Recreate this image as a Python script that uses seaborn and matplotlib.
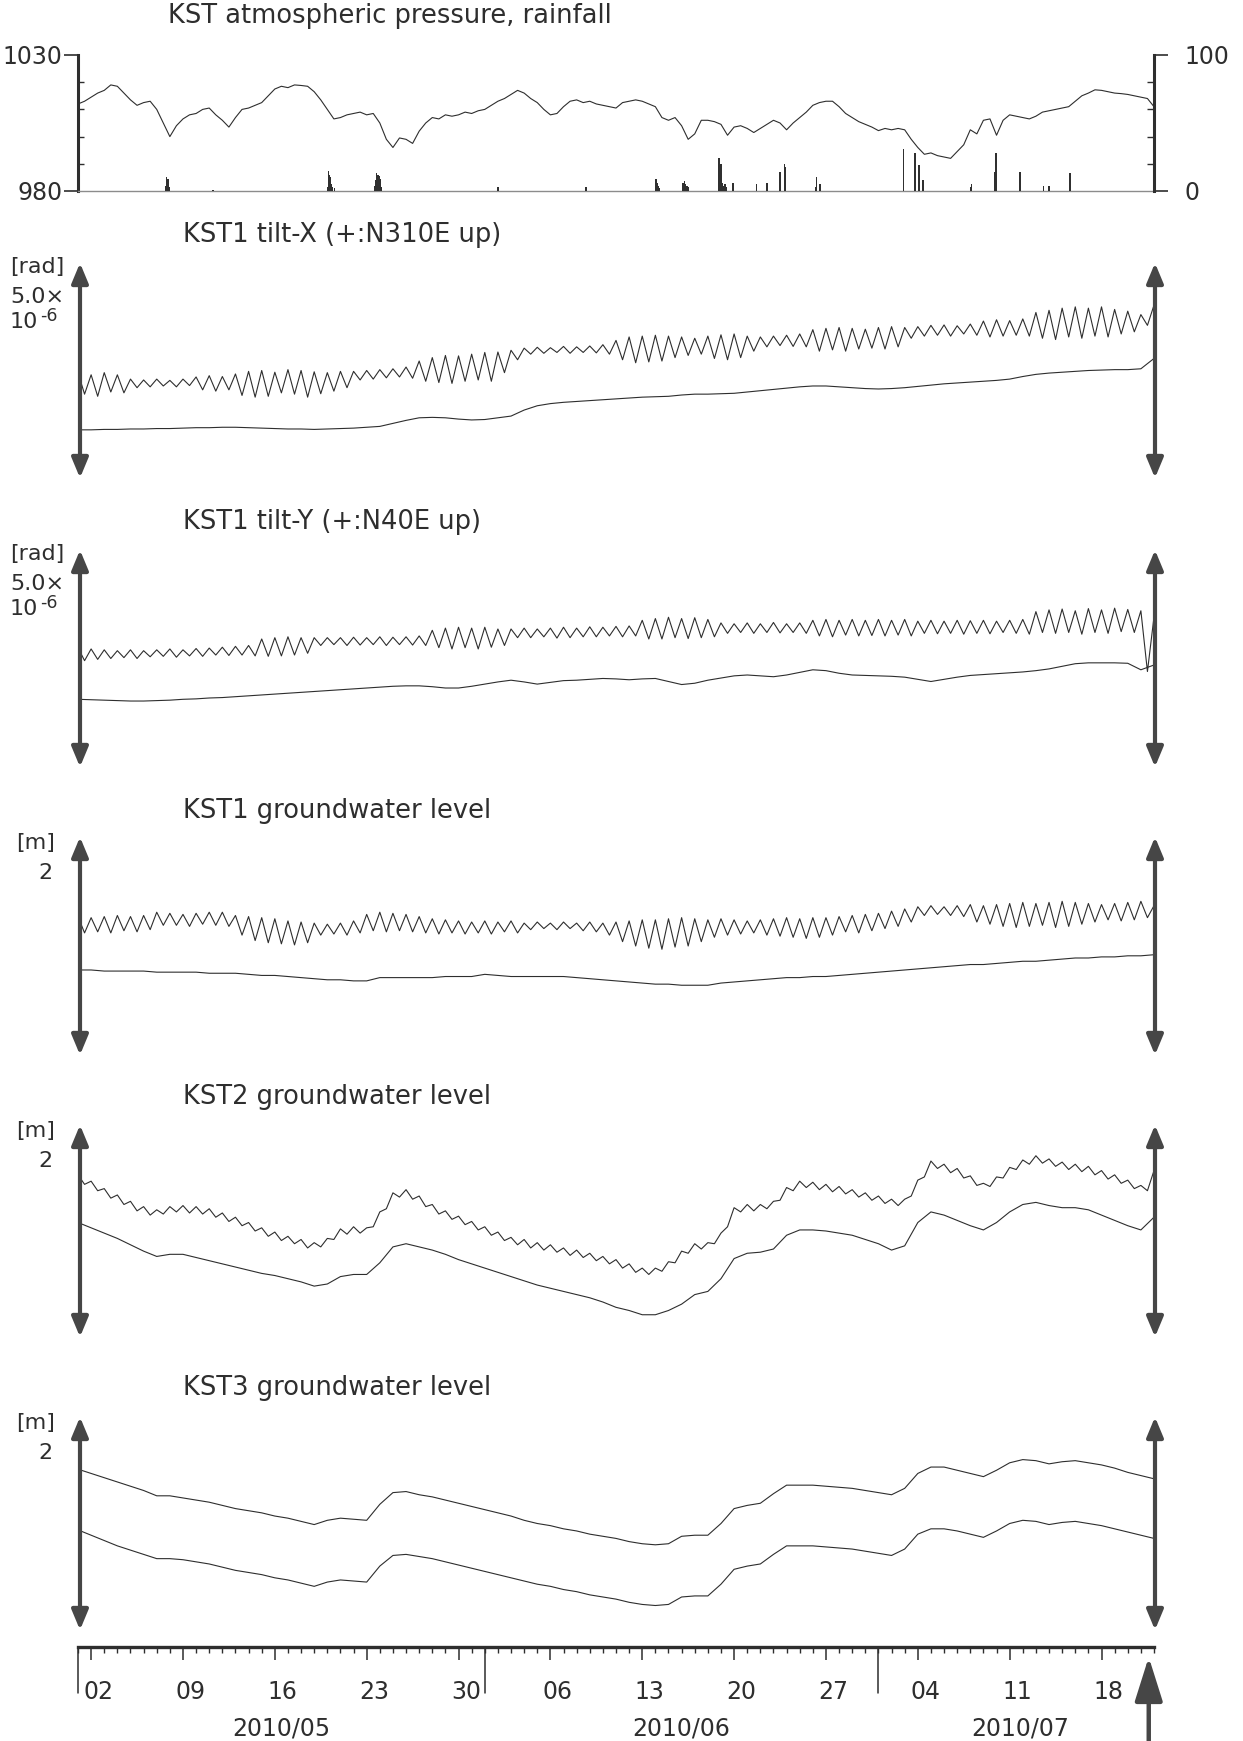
import numpy as np
import matplotlib
matplotlib.use("Agg")
import matplotlib.pyplot as plt
import seaborn as sns
from matplotlib.patches import FancyArrowPatch, ArrowStyle
from matplotlib.transforms import blended_transform_factory
from matplotlib.ticker import FixedLocator, NullFormatter

# ------------------------------------------------------------------
# Observation record, 2010-05-01 00:00 (day 0) to 2010-07-22 00:00 (day 82)
# ------------------------------------------------------------------

# Atmospheric pressure at KST [hPa], every 12 hours
pressure_hpa = [
    1012, 1013, 1014.5, 1016, 1017, 1019, 1018.5, 1016, 1013.5, 1011.5,
    1012.5, 1013, 1010, 1005, 1000, 1004, 1006.5, 1008, 1008.5, 1010,
    1010.5, 1008, 1006, 1003.5, 1007, 1010, 1010.5, 1011.5, 1012.5, 1015,
    1017.5, 1018.5, 1018, 1019, 1018.8, 1018.5, 1016.5, 1013.5, 1010, 1006.5,
    1007, 1008, 1008.5, 1009, 1008, 1008.5, 1005, 999, 996, 999.5,
    999, 997.5, 1002, 1005, 1007, 1006.5, 1008, 1007.5, 1008, 1009,
    1008.5, 1009.5, 1010, 1011.5, 1013, 1014, 1015.5, 1017, 1016, 1014,
    1012.5, 1010, 1008, 1008.5, 1011, 1013, 1013.5, 1012.5, 1013, 1012,
    1011.5, 1011, 1010.5, 1012.5, 1013, 1013.5, 1013, 1012, 1011, 1007,
    1006, 1007, 1004, 999, 1001, 1006, 1006, 1005.5, 1004.5, 1000.5,
    1003.5, 1004, 1003, 1001.5, 1003, 1004.5, 1006, 1005, 1002.5, 1005,
    1007, 1009, 1011.5, 1012.5, 1013, 1013, 1011, 1008.5, 1007, 1005.5,
    1004.5, 1003.5, 1002.2, 1003, 1002.5, 1003, 1002.5, 999, 996, 993.5,
    994, 993, 992.5, 992, 994.5, 997, 1002.5, 1001, 1006, 1006.5,
    1000.5, 1006, 1008, 1007.5, 1007, 1006.5, 1007.5, 1009, 1009.5, 1010,
    1010.5, 1011, 1013, 1015, 1016, 1017.2, 1017, 1016.5, 1016, 1015.8,
    1015.5, 1015, 1014.5, 1014, 1011,
]

# Hourly rainfall [mm]: time in days since 2010-05-01, amount
rain_day = [
    6.70, 6.75, 6.80, 6.85, 6.90, 6.95, 10.30,
    19.05, 19.10, 19.15, 19.20, 19.25, 19.30, 19.40, 19.55,
    22.65, 22.70, 22.75, 22.80, 22.85, 22.90, 22.95, 23.00, 23.05, 23.15,
    32.00, 38.70,
    44.05, 44.10, 44.15, 44.20, 44.30,
    46.05, 46.10, 46.20, 46.30, 46.40, 46.50,
    48.80, 48.85, 48.90, 48.95, 49.00, 49.05, 49.10, 49.20, 49.30, 49.40,
    49.90, 51.70, 52.50, 53.50, 53.55, 53.85, 53.90,
    56.20, 56.30, 56.55, 62.90, 63.75, 63.80, 64.10, 64.40,
    68.05, 68.10, 69.85, 69.90, 69.95, 70.00, 71.75, 71.80,
    73.60, 74.00, 75.55, 75.60,
]
rain_mm = [
    4, 10, 8, 9, 5, 3, 1,
    3, 15, 12, 8, 10, 5, 3, 2,
    4, 8, 13, 10, 12, 7, 11, 9, 5, 3,
    3, 3,
    9, 9, 6, 4, 2,
    5, 6, 7, 5, 4, 3,
    10, 24, 12, 16, 20, 9, 6, 4, 5, 3,
    6, 5, 6, 14, 6, 20, 18,
    3, 10, 5, 31, 10, 28, 19, 8,
    3, 5, 14, 15, 28, 6, 5, 14,
    4, 4, 10, 13,
]

# KST1 tilt-X [1e-6 rad]: raw record (daily high at 00h, low at 12h) and corrected
tiltx_raw_hi = [
    2.45, 2.40, 2.45, 2.40, 2.30, 2.28, 2.30, 2.27, 2.30, 2.35,
    2.38, 2.36, 2.42, 2.48, 2.50, 2.46, 2.52, 2.50, 2.47, 2.45,
    2.48, 2.48, 2.50, 2.52, 2.54, 2.58, 2.72, 2.80, 2.85, 2.84,
    2.88, 2.92, 2.93, 2.97, 3.02, 3.04, 3.03, 3.06, 3.05, 3.07,
    3.10, 3.20, 3.28, 3.30, 3.32, 3.30, 3.28, 3.25, 3.30, 3.33,
    3.35, 3.30, 3.28, 3.30, 3.32, 3.35, 3.45, 3.48, 3.50, 3.48,
    3.46, 3.50, 3.52, 3.50, 3.52, 3.55, 3.56, 3.54, 3.58, 3.65,
    3.68, 3.66, 3.70, 3.85, 3.90, 3.95, 3.98, 3.95, 3.98, 3.92,
    3.88, 3.80, 4.02,
]
tiltx_raw_lo = [
    1.95, 1.90, 2.00, 1.98, 2.10, 2.12, 2.14, 2.12, 2.15, 2.05,
    2.02, 2.05, 1.92, 1.88, 1.90, 1.98, 1.95, 1.88, 1.96, 2.02,
    2.10, 2.28, 2.30, 2.33, 2.35, 2.32, 2.25, 2.22, 2.20, 2.25,
    2.28, 2.25, 2.45, 2.75, 2.88, 2.90, 2.92, 2.90, 2.92, 2.91,
    2.88, 2.75, 2.68, 2.70, 2.72, 2.80, 2.85, 2.88, 2.78, 2.75,
    2.80, 2.95, 3.05, 3.08, 3.06, 3.05, 2.95, 2.98, 2.95, 3.00,
    3.02, 3.00, 3.05, 3.25, 3.30, 3.32, 3.30, 3.35, 3.32, 3.28,
    3.30, 3.32, 3.30, 3.25, 3.22, 3.28, 3.25, 3.30, 3.28, 3.35,
    3.40, 3.55,
]
tiltx_corr = [
    1.12, 1.12, 1.13, 1.13, 1.14, 1.14, 1.15, 1.15, 1.16, 1.17,
    1.17, 1.18, 1.18, 1.17, 1.16, 1.15, 1.14, 1.14, 1.13, 1.14,
    1.15, 1.16, 1.18, 1.20, 1.27, 1.34, 1.40, 1.41, 1.40, 1.37,
    1.35, 1.36, 1.40, 1.44, 1.58, 1.68, 1.73, 1.76, 1.78, 1.80,
    1.82, 1.84, 1.86, 1.88, 1.89, 1.90, 1.93, 1.95, 1.95, 1.96,
    1.97, 2.00, 2.03, 2.06, 2.09, 2.12, 2.14, 2.14, 2.12, 2.10,
    2.08, 2.07, 2.08, 2.10, 2.13, 2.16, 2.19, 2.21, 2.23, 2.25,
    2.27, 2.30, 2.36, 2.41, 2.44, 2.46, 2.48, 2.50, 2.51, 2.52,
    2.52, 2.54, 2.78,
]

# KST1 tilt-Y [1e-6 rad]
tilty_raw_hi = [
    2.75, 2.72, 2.70, 2.68, 2.70, 2.68, 2.70, 2.72, 2.70, 2.73,
    2.74, 2.76, 2.78, 2.80, 2.95, 2.98, 3.00, 2.98, 2.98, 2.98,
    2.98, 2.99, 2.98, 3.00, 2.99, 3.00, 3.02, 3.15, 3.20, 3.22,
    3.20, 3.22, 3.18, 3.18, 3.20, 3.18, 3.20, 3.22, 3.20, 3.23,
    3.22, 3.24, 3.25, 3.38, 3.42, 3.45, 3.42, 3.44, 3.40, 3.32,
    3.30, 3.32, 3.30, 3.33, 3.30, 3.32, 3.38, 3.40, 3.38, 3.40,
    3.38, 3.40, 3.38, 3.40, 3.36, 3.38, 3.36, 3.38, 3.37, 3.38,
    3.36, 3.38, 3.40, 3.58, 3.62, 3.64, 3.60, 3.65, 3.62, 3.66,
    3.63, 3.60, 3.46,
]
tilty_raw_lo = [
    2.45, 2.48, 2.50, 2.52, 2.50, 2.54, 2.55, 2.53, 2.56, 2.55,
    2.58, 2.57, 2.58, 2.56, 2.55, 2.56, 2.58, 2.62, 2.80, 2.82,
    2.80, 2.81, 2.82, 2.80, 2.82, 2.81, 2.80, 2.75, 2.72, 2.75,
    2.72, 2.76, 2.80, 2.98, 2.98, 3.00, 2.97, 2.98, 3.00, 3.00,
    3.02, 3.00, 3.02, 2.95, 2.95, 2.98, 2.96, 2.98, 3.00, 3.08,
    3.10, 3.08, 3.10, 3.09, 3.10, 3.08, 3.02, 3.00, 3.04, 3.02,
    3.03, 3.02, 3.04, 3.02, 3.08, 3.07, 3.08, 3.06, 3.08, 3.07,
    3.10, 3.08, 3.06, 3.10, 3.08, 3.10, 3.06, 3.10, 3.08, 3.12,
    3.10, 2.20,
]
tilty_corr = [
    1.56, 1.55, 1.54, 1.53, 1.52, 1.52, 1.53, 1.54, 1.56, 1.57,
    1.59, 1.60, 1.62, 1.64, 1.66, 1.68, 1.70, 1.72, 1.74, 1.76,
    1.78, 1.80, 1.82, 1.84, 1.86, 1.87, 1.87, 1.85, 1.82, 1.82,
    1.86, 1.91, 1.96, 2.00, 1.96, 1.91, 1.95, 1.99, 2.00, 2.02,
    2.04, 2.03, 2.01, 2.03, 2.04, 1.97, 1.90, 1.93, 2.00, 2.05,
    2.10, 2.12, 2.10, 2.08, 2.12, 2.18, 2.24, 2.22, 2.16, 2.12,
    2.11, 2.10, 2.09, 2.07, 2.02, 1.97, 2.02, 2.07, 2.11, 2.13,
    2.15, 2.17, 2.19, 2.22, 2.26, 2.32, 2.38, 2.40, 2.40, 2.40,
    2.39, 2.24, 2.35,
]

# KST1 groundwater level [m]
gw1_raw_hi = [
    1.27, 1.26, 1.27, 1.28, 1.27, 1.28, 1.31, 1.30, 1.29, 1.30,
    1.31, 1.31, 1.28, 1.27, 1.26, 1.25, 1.23, 1.22, 1.21, 1.20,
    1.21, 1.23, 1.29, 1.31, 1.30, 1.29, 1.27, 1.25, 1.24, 1.23,
    1.22, 1.23, 1.22, 1.23, 1.21, 1.22, 1.21, 1.22, 1.21, 1.22,
    1.21, 1.22, 1.23, 1.24, 1.24, 1.25, 1.26, 1.25, 1.24, 1.25,
    1.24, 1.23, 1.24, 1.25, 1.26, 1.25, 1.26, 1.26, 1.27, 1.28,
    1.29, 1.30, 1.32, 1.34, 1.36, 1.37, 1.36, 1.37, 1.38, 1.37,
    1.38, 1.39, 1.40, 1.39, 1.40, 1.41, 1.40, 1.39, 1.38, 1.39,
    1.40, 1.41, 1.37,
]
gw1_raw_lo = [
    1.12, 1.13, 1.12, 1.14, 1.13, 1.15, 1.19, 1.19, 1.18, 1.20,
    1.19, 1.18, 1.10, 1.05, 1.03, 1.02, 1.01, 1.03, 1.10, 1.11,
    1.10, 1.12, 1.14, 1.13, 1.14, 1.13, 1.12, 1.11, 1.12, 1.11,
    1.12, 1.11, 1.13, 1.12, 1.15, 1.16, 1.15, 1.16, 1.14, 1.13,
    1.10, 1.04, 1.00, 0.98, 0.97, 0.99, 1.00, 1.04, 1.08, 1.10,
    1.11, 1.12, 1.10, 1.09, 1.08, 1.07, 1.08, 1.10, 1.13, 1.12,
    1.14, 1.16, 1.18, 1.22, 1.28, 1.29, 1.28, 1.27, 1.22, 1.20,
    1.18, 1.17, 1.18, 1.19, 1.17, 1.18, 1.20, 1.22, 1.24, 1.23,
    1.24, 1.26,
]
gw1_corr = [
    0.78, 0.78, 0.77, 0.77, 0.77, 0.77, 0.76, 0.76, 0.76, 0.76,
    0.75, 0.75, 0.75, 0.74, 0.73, 0.73, 0.72, 0.71, 0.70, 0.69,
    0.69, 0.68, 0.68, 0.71, 0.71, 0.71, 0.71, 0.71, 0.72, 0.72,
    0.72, 0.74, 0.73, 0.72, 0.72, 0.72, 0.72, 0.72, 0.71, 0.70,
    0.69, 0.68, 0.67, 0.66, 0.65, 0.65, 0.64, 0.64, 0.64, 0.66,
    0.67, 0.68, 0.69, 0.70, 0.71, 0.71, 0.72, 0.72, 0.73, 0.74,
    0.75, 0.76, 0.77, 0.78, 0.79, 0.80, 0.81, 0.82, 0.83, 0.83,
    0.84, 0.85, 0.86, 0.86, 0.87, 0.88, 0.89, 0.89, 0.90, 0.90,
    0.91, 0.91, 0.92,
]

# KST2 groundwater level [m]
gw2_raw_hi = [
    1.53, 1.47, 1.40, 1.34, 1.28, 1.23, 1.20, 1.23, 1.24, 1.23,
    1.21, 1.17, 1.13, 1.08, 1.03, 0.99, 0.95, 0.92, 0.89, 0.93,
    1.02, 1.04, 1.03, 1.18, 1.36, 1.39, 1.33, 1.25, 1.19, 1.14,
    1.09, 1.04, 0.99, 0.94, 0.92, 0.89, 0.87, 0.84, 0.82, 0.79,
    0.76, 0.73, 0.69, 0.65, 0.65, 0.71, 0.81, 0.88, 0.89, 0.98,
    1.22, 1.25, 1.25, 1.28, 1.41, 1.47, 1.46, 1.44, 1.42, 1.39,
    1.36, 1.33, 1.30, 1.30, 1.48, 1.66, 1.63, 1.59, 1.52, 1.45,
    1.51, 1.60, 1.67, 1.71, 1.68, 1.65, 1.63, 1.61, 1.57, 1.53,
    1.48, 1.43, 1.57,
]
gw2_raw_lo = [
    1.44, 1.38, 1.31, 1.25, 1.19, 1.15, 1.16, 1.18, 1.17, 1.16,
    1.13, 1.09, 1.05, 1.00, 0.95, 0.91, 0.88, 0.84, 0.85, 0.92,
    0.97, 0.98, 1.04, 1.21, 1.32, 1.30, 1.23, 1.16, 1.11, 1.06,
    1.01, 0.96, 0.91, 0.87, 0.84, 0.82, 0.80, 0.77, 0.75, 0.72,
    0.69, 0.65, 0.61, 0.59, 0.62, 0.70, 0.79, 0.83, 0.88, 1.04,
    1.18, 1.19, 1.21, 1.29, 1.38, 1.41, 1.39, 1.37, 1.35, 1.32,
    1.29, 1.26, 1.24, 1.33, 1.51, 1.59, 1.55, 1.50, 1.43, 1.42,
    1.50, 1.58, 1.63, 1.64, 1.61, 1.58, 1.56, 1.53, 1.49, 1.45,
    1.40, 1.38,
]
gw2_corr = [
    1.08, 1.03, 0.98, 0.93, 0.87, 0.81, 0.76, 0.78, 0.78, 0.75,
    0.72, 0.69, 0.66, 0.63, 0.60, 0.58, 0.55, 0.52, 0.48, 0.50,
    0.57, 0.59, 0.59, 0.70, 0.85, 0.88, 0.85, 0.82, 0.78, 0.73,
    0.69, 0.65, 0.61, 0.57, 0.53, 0.49, 0.46, 0.43, 0.40, 0.37,
    0.33, 0.28, 0.25, 0.21, 0.21, 0.25, 0.31, 0.40, 0.43, 0.55,
    0.74, 0.79, 0.80, 0.83, 0.96, 1.01, 1.01, 1.00, 0.98, 0.96,
    0.92, 0.88, 0.82, 0.86, 1.08, 1.18, 1.15, 1.10, 1.05, 1.01,
    1.08, 1.18, 1.25, 1.27, 1.24, 1.22, 1.22, 1.20, 1.15, 1.10,
    1.05, 1.01, 1.13,
]

# KST3 groundwater level [m], two records
gw3_upper = [
    1.51, 1.47, 1.43, 1.39, 1.35, 1.31, 1.26, 1.26, 1.24, 1.22,
    1.20, 1.17, 1.14, 1.12, 1.10, 1.07, 1.05, 1.02, 0.99, 1.03,
    1.05, 1.04, 1.03, 1.18, 1.29, 1.30, 1.27, 1.25, 1.22, 1.19,
    1.16, 1.13, 1.10, 1.07, 1.03, 1.00, 0.98, 0.95, 0.93, 0.90,
    0.88, 0.86, 0.83, 0.81, 0.80, 0.81, 0.88, 0.89, 0.89, 1.00,
    1.14, 1.17, 1.19, 1.28, 1.36, 1.36, 1.36, 1.35, 1.34, 1.33,
    1.31, 1.29, 1.27, 1.33, 1.47, 1.53, 1.53, 1.50, 1.47, 1.44,
    1.50, 1.57, 1.60, 1.59, 1.56, 1.58, 1.59, 1.57, 1.55, 1.52,
    1.48, 1.45, 1.42,
]
gw3_lower = [
    0.94, 0.89, 0.84, 0.79, 0.75, 0.71, 0.67, 0.67, 0.66, 0.64,
    0.62, 0.59, 0.56, 0.54, 0.52, 0.49, 0.47, 0.44, 0.41, 0.45,
    0.47, 0.46, 0.45, 0.60, 0.70, 0.71, 0.69, 0.67, 0.64, 0.61,
    0.58, 0.55, 0.52, 0.49, 0.46, 0.43, 0.41, 0.38, 0.36, 0.33,
    0.31, 0.29, 0.26, 0.24, 0.23, 0.24, 0.31, 0.32, 0.32, 0.43,
    0.57, 0.60, 0.62, 0.71, 0.79, 0.79, 0.79, 0.78, 0.77, 0.76,
    0.74, 0.72, 0.70, 0.76, 0.90, 0.95, 0.95, 0.93, 0.90, 0.87,
    0.93, 1.00, 1.03, 1.02, 0.99, 1.01, 1.02, 1.00, 0.98, 0.95,
    0.92, 0.89, 0.86,
]

# Time axis
week_days = [1, 8, 15, 22, 29, 36, 43, 50, 57, 64, 71, 78]
week_labels = ["02", "09", "16", "23", "30", "06", "13", "20", "27", "04", "11", "18"]
month_start_days = [0, 31, 61]
month_mid_days = [15.5, 46.0, 71.8]
month_labels = ["2010/05", "2010/06", "2010/07"]
event_day = 81.6

# ------------------------------------------------------------------
# Layout (pixel positions at 100 dpi)
# ------------------------------------------------------------------
W, H = 1243, 1741
X0, X1 = 78, 1154
NDAYS = 82
INK = "#2e2e2e"
ARROW = "#464646"
FS = 17        # numbers
FS_TITLE = 18.5
FS_UNIT = 16

sns.set_theme(style="white")
plt.rcParams["font.family"] = ["DejaVu Sans"]
plt.rcParams["text.color"] = INK

fig = plt.figure(figsize=(W / 100, H / 100), dpi=100)
fig.patch.set_facecolor("white")


def fx(px):
    return px / W


def fy(py):
    return 1 - py / H


def rect(top, bottom, x0=X0, x1=X1):
    return [x0 / W, 1 - bottom / H, (x1 - x0) / W, (bottom - top) / H]


t_day = np.arange(NDAYS + 1)
t_half = np.arange(0, NDAYS + 0.25, 0.5)


def interleave(hi, lo):
    out = np.empty(len(hi) + len(lo))
    out[0::2] = hi
    out[1::2] = lo
    return out


def draw_line(ax, x, y, lw=0.8):
    sns.lineplot(x=np.asarray(x, float), y=np.asarray(y, float), ax=ax,
                 color=INK, linewidth=lw, estimator=None, sort=False,
                 legend=False)


def double_arrow(x, top, bottom):
    arr = FancyArrowPatch((fx(x), fy(bottom)), (fx(x), fy(top)),
                          transform=fig.transFigure,
                          arrowstyle=ArrowStyle("<|-|>", head_length=12, head_width=5),
                          color=ARROW, linewidth=3.0, shrinkA=0, shrinkB=0)
    fig.add_artist(arr)


def title(text, y, x=183):
    fig.text(fx(x), fy(y), text, fontsize=FS_TITLE, ha="left", va="center", color=INK)


# ---------------- pressure / rainfall ----------------
P_TOP, P_BOT = 55, 191
axp = fig.add_axes(rect(P_TOP, P_BOT))
axp.set_xlim(0, NDAYS)
axp.set_ylim(980, 1030)
draw_line(axp, t_half, pressure_hpa)
axp.spines["top"].set_visible(False)
axp.spines["right"].set_visible(False)
axp.spines["left"].set_linewidth(2.2)
axp.spines["left"].set_color(INK)
axp.spines["bottom"].set_linewidth(1.0)
axp.spines["bottom"].set_color("#8c8c8c")
axp.set_xticks([])
axp.set_xlabel("")
axp.set_ylabel("")
axp.yaxis.set_major_locator(FixedLocator([980, 1030]))
axp.yaxis.set_minor_locator(FixedLocator([990, 1000, 1010, 1020]))
axp.tick_params(axis="y", which="major", left=True, direction="out", length=10,
                width=1.2, pad=1, labelsize=FS, colors=INK)
axp.tick_params(axis="y", which="minor", left=True, direction="in", length=4,
                width=1.0, colors=INK)

axr = axp.twinx()
axr.set_ylim(0, 100)
axr.bar(rain_day, rain_mm, width=0.11, color="#303030", linewidth=0)
for s in ("top", "left", "bottom"):
    axr.spines[s].set_visible(False)
axr.spines["right"].set_linewidth(2.2)
axr.spines["right"].set_color(INK)
axr.yaxis.set_major_locator(FixedLocator([0, 100]))
axr.yaxis.set_minor_locator(FixedLocator([20, 40, 60, 80]))
axr.tick_params(axis="y", which="major", right=True, direction="out", length=10,
                width=1.2, pad=12, labelsize=FS, colors=INK)
axr.tick_params(axis="y", which="minor", right=True, direction="in", length=5,
                width=1.0, colors=INK)
axr.set_ylabel("")
axr.grid(False)
axp.grid(False)

title("KST atmospheric pressure, rainfall", 16, x=168)

# ---------------- trace panels ----------------
panels = [
    # title, title_y, top, bottom, ymax, unit, scale label, series
    ("KST1 tilt-X (+:N310E up)", 235, 263, 478, 5.0, "[rad]", "5.0\u00d7",
     [(t_half, interleave(tiltx_raw_hi, tiltx_raw_lo)), (t_day, tiltx_corr)]),
    ("KST1 tilt-Y (+:N40E up)", 522, 550, 767, 5.0, "[rad]", "5.0\u00d7",
     [(t_half, interleave(tilty_raw_hi, tilty_raw_lo)), (t_day, tilty_corr)]),
    ("KST1 groundwater level", 811, 837, 1055, 2.0, "[m]", "2",
     [(t_half, interleave(gw1_raw_hi, gw1_raw_lo)), (t_day, gw1_corr)]),
    ("KST2 groundwater level", 1097, 1125, 1337, 2.0, "[m]", "2",
     [(t_half, interleave(gw2_raw_hi, gw2_raw_lo)), (t_day, gw2_corr)]),
    ("KST3 groundwater level", 1388, 1417, 1630, 2.0, "[m]", "2",
     [(t_day, gw3_upper), (t_day, gw3_lower)]),
]

for name, ty, top, bot, ymax, unit, scale, series in panels:
    ax = fig.add_axes(rect(top, bot))
    ax.set_xlim(0, NDAYS)
    ax.set_ylim(0, ymax)
    for x, y in series:
        draw_line(ax, x, y)
    ax.axis("off")
    title(name, ty)
    double_arrow(80, top, bot)
    double_arrow(1155, top, bot)
    if unit == "[rad]":
        fig.text(fx(10), fy(top + 4), unit, fontsize=FS_UNIT, ha="left", va="center")
        fig.text(fx(10), fy(top + 34), scale, fontsize=FS_UNIT, ha="left", va="center")
        fig.text(fx(10), fy(top + 59), "10", fontsize=FS_UNIT, ha="left", va="center")
        fig.text(fx(40), fy(top + 53), "-6", fontsize=12.5, ha="left", va="center")
    else:
        fig.text(fx(16), fy(top + 6), unit, fontsize=FS_UNIT, ha="left", va="center")
        fig.text(fx(45), fy(top + 36), scale, fontsize=FS_UNIT, ha="center", va="center")

# ---------------- time axis ----------------
AX_Y = 1647
axt = fig.add_axes(rect(AX_Y - 1, AX_Y))
axt.set_xlim(0, NDAYS)
axt.set_ylim(0, 1)
for s in ("top", "left", "right"):
    axt.spines[s].set_visible(False)
axt.spines["bottom"].set_linewidth(2.4)
axt.spines["bottom"].set_color(INK)
axt.set_yticks([])
axt.xaxis.set_major_locator(FixedLocator(week_days))
axt.xaxis.set_minor_locator(FixedLocator(list(range(NDAYS + 1))))
axt.xaxis.set_major_formatter(NullFormatter())
axt.tick_params(axis="x", which="major", bottom=True, direction="out", length=9.5,
                width=1.1, colors=INK)
axt.tick_params(axis="x", which="minor", bottom=True, direction="out", length=4,
                width=1.0, colors=INK)
trans = blended_transform_factory(axt.transData, fig.transFigure)
for d in month_start_days:
    axt.plot([d, d], [fy(AX_Y), fy(1693)], transform=trans, color=INK, lw=1.1,
             clip_on=False)
for d, lab in zip(week_days, week_labels):
    axt.text(d + 0.55, fy(1692), lab, transform=trans, ha="center", va="center",
             fontsize=FS, color=INK)
for d, lab in zip(month_mid_days, month_labels):
    axt.text(d, fy(1728), lab, transform=trans, ha="center", va="center",
             fontsize=FS, color=INK)

# event marker below the time axis
ex = X0 + event_day * (X1 - X0) / NDAYS
big = FancyArrowPatch((fx(ex), 0.0), (fx(ex), fy(1657)), transform=fig.transFigure,
                      arrowstyle=ArrowStyle("-|>", head_length=27, head_width=8.5),
                      color=ARROW, linewidth=3.2, shrinkA=0, shrinkB=0)
fig.add_artist(big)

fig.savefig("out.png", dpi=100, facecolor="white")
